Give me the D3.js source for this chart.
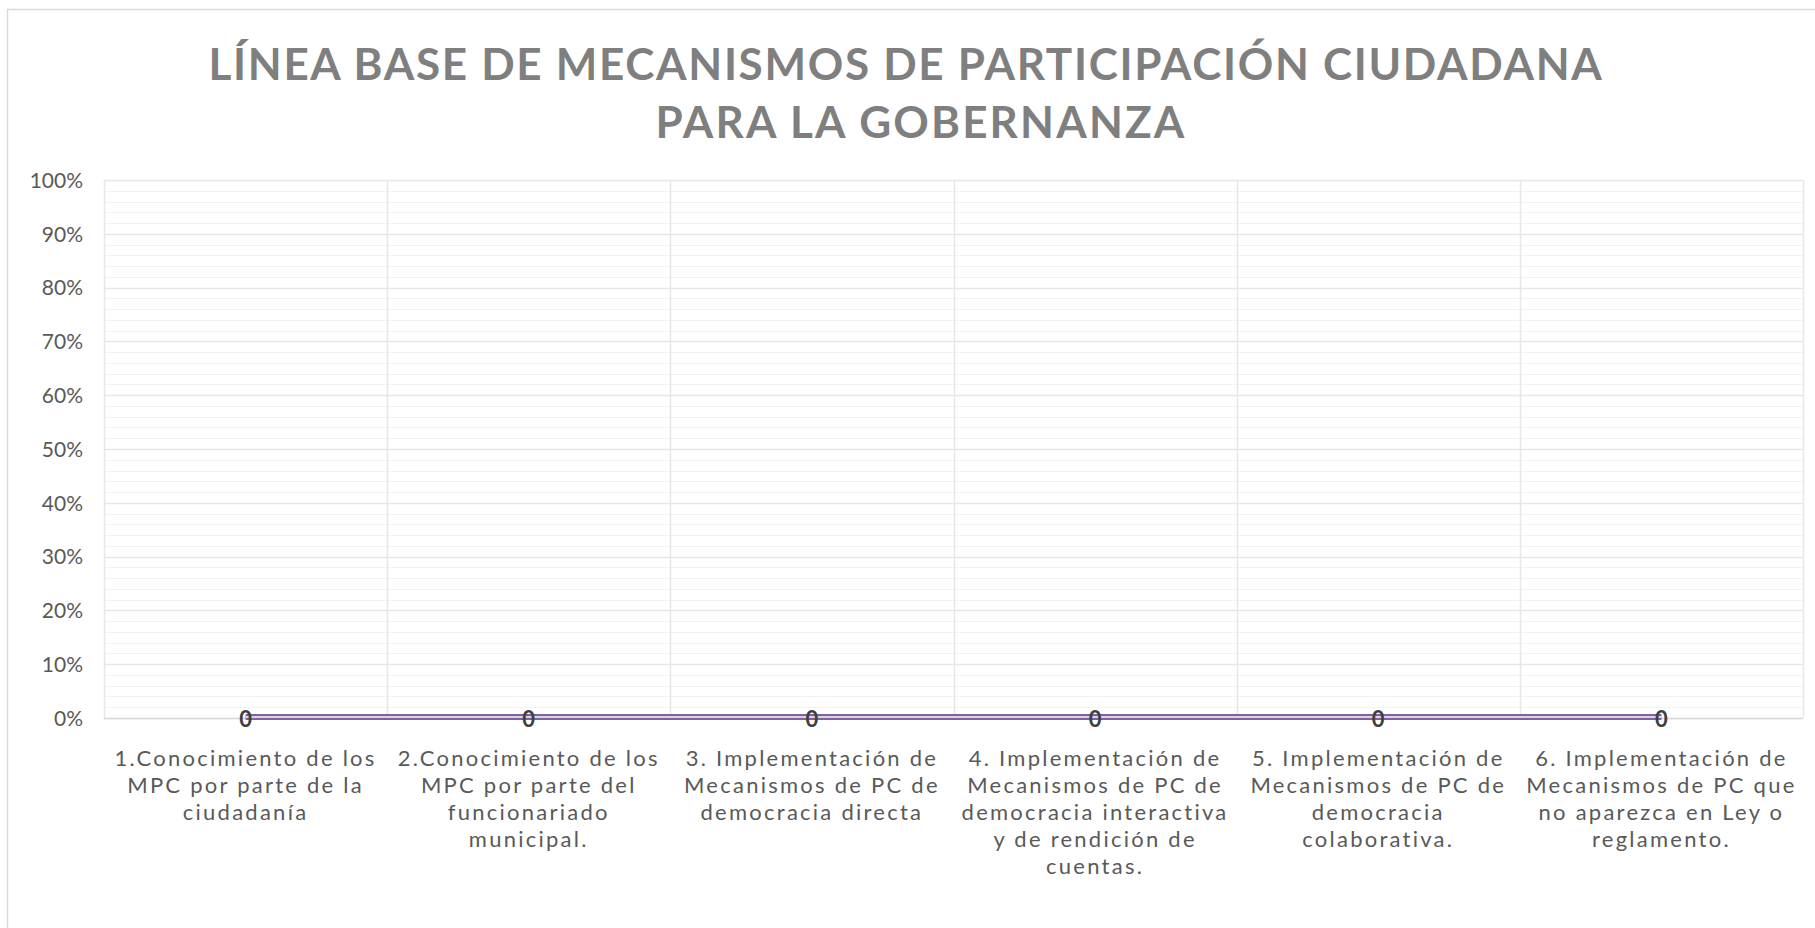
<!DOCTYPE html>
<html>
<head>
<meta charset="utf-8">
<script src="https://cdn.jsdelivr.net/npm/d3@7"></script>
<style>
  html, body { margin: 0; padding: 0; background: #ffffff; }
  svg { display: block; }
</style>
</head>
<body>
<svg id="chart" width="1815" height="928"></svg>
<script>
// ---------- DATA ----------
const titleLines = ["LÍNEA BASE DE MECANISMOS DE PARTICIPACIÓN CIUDADANA", "PARA LA GOBERNANZA"];
const categories = [
  "1.Conocimiento de los\nMPC por parte de la\nciudadanía",
  "2.Conocimiento de los\nMPC por parte del\nfuncionariado\nmunicipal.",
  "3. Implementación de\nMecanismos de PC de\ndemocracia directa",
  "4. Implementación de\nMecanismos de PC de\ndemocracia interactiva\ny de rendición de\ncuentas.",
  "5. Implementación de\nMecanismos de PC de\ndemocracia\ncolaborativa.",
  "6. Implementación de\nMecanismos de PC que\nno aparezca en Ley o\nreglamento."
];
const seriesA = [0, 0, 0, 0, 0, 0];
const seriesB = [0, 0, 0, 0, 0, 0];
const yTicks = [0, 0.1, 0.2, 0.3, 0.4, 0.5, 0.6, 0.7, 0.8, 0.9, 1.0];
const yMinorTicks = d3.range(0, 51).map(i => i / 50);

// ---------- LAYOUT ----------
const svg = d3.select("#chart");
const plot = { left: 104, right: 1803, top: 180, bottom: 718 };
const FONT = "Lato, 'Open Sans', sans-serif";

// outer chart border
svg.append("rect")
  .attr("x", 7.5).attr("y", 9.5)
  .attr("width", 1830).attr("height", 940)
  .attr("fill", "#fff").attr("stroke", "#d9d9d9").attr("stroke-width", 1.5);

const x = d3.scaleBand().domain(d3.range(categories.length)).range([plot.left, plot.right]).paddingInner(0).paddingOuter(0);
const y = d3.scaleLinear().domain([0, 1]).range([plot.bottom, plot.top]);

// minor gridlines
svg.append("g").selectAll("line").data(yMinorTicks).join("line")
  .attr("x1", plot.left).attr("x2", plot.right)
  .attr("y1", d => Math.round(y(d)) + 0.5).attr("y2", d => Math.round(y(d)) + 0.5)
  .attr("stroke", "#f3f3f3").attr("stroke-width", 1);

// major gridlines
svg.append("g").selectAll("line").data(yTicks).join("line")
  .attr("x1", plot.left).attr("x2", plot.right)
  .attr("y1", d => Math.round(y(d)) + 0.5).attr("y2", d => Math.round(y(d)) + 0.5)
  .attr("stroke", "#e7e7e7").attr("stroke-width", 1.5);

// vertical category gridlines
const vLines = d3.range(categories.length + 1).map(i => i < categories.length ? x(i) : plot.right);
svg.append("g").selectAll("line").data(vLines).join("line")
  .attr("x1", d => Math.round(d) + 0.5).attr("x2", d => Math.round(d) + 0.5)
  .attr("y1", plot.top).attr("y2", plot.bottom)
  .attr("stroke", "#e7e7e7").attr("stroke-width", 1.5);

// horizontal axis line
svg.append("line")
  .attr("x1", plot.left).attr("x2", plot.right)
  .attr("y1", plot.bottom + 0.5).attr("y2", plot.bottom + 0.5)
  .attr("stroke", "#d9d9d9").attr("stroke-width", 1.5);

// y axis labels
const yAxis = d3.axisLeft(y).tickValues(yTicks).tickFormat(d3.format(".0%")).tickSize(0).tickPadding(0);
const yG = svg.append("g").attr("transform", `translate(${83},0)`).call(yAxis);
yG.select(".domain").remove();
yG.selectAll("text")
  .attr("font-family", FONT).attr("font-size", 21).attr("fill", "#595959")
  .attr("dy", "0.35em");

// x axis labels
const xG = svg.append("g");
const LINE_H = 27;
const X_FS = 22;
// measure first label line to fit the reference's width
const probe = xG.append("text").attr("font-family", FONT).attr("font-size", X_FS).text(categories[0].split("\n")[0]);
const probeW = probe.node().getComputedTextLength();
probe.remove();
const xLs = Math.max(0, (262 - probeW) / categories[0].split("\n")[0].length);
categories.forEach((c, i) => {
  const lines = c.split("\n");
  const t = xG.append("text")
    .attr("text-anchor", "middle")
    .attr("font-family", FONT).attr("font-size", X_FS).attr("fill", "#595959")
    .attr("letter-spacing", xLs);
  lines.forEach((ln, j) => {
    t.append("tspan").attr("x", x(i) + x.bandwidth() / 2).attr("y", 766 + j * LINE_H).text(ln);
  });
});

// lines
const cx = i => x(i) + x.bandwidth() / 2;
const lineGen = d3.line().x((d, i) => cx(i)).y(d => y(d) - 1);
svg.append("path").datum(seriesA).attr("d", lineGen)
  .attr("fill", "none").attr("stroke", "#7f63a1").attr("stroke-width", 6);
svg.append("path").datum(seriesB).attr("d", lineGen)
  .attr("fill", "none").attr("stroke", "#d9d3e3").attr("stroke-width", 2);

// data labels (series labels coincide; drawn once)
svg.append("g").selectAll("text").data(seriesA).join("text")
  .attr("x", (d, i) => cx(i))
  .attr("y", d => y(d) + 1)
  .attr("dy", "0.35em")
  .attr("text-anchor", "middle")
  .attr("font-family", FONT).attr("font-size", 22).attr("font-weight", 700)
  .attr("fill", "#404040")
  .text(d => d3.format("d")(d));

// title
const tG = svg.append("g");
const targetW1 = 1395, targetW2 = 531;
const t1 = tG.append("text")
  .attr("x", 906).attr("y", 80)
  .attr("text-anchor", "middle")
  .attr("font-family", FONT).attr("font-size", 44).attr("font-weight", 700)
  .attr("fill", "#7f7f7f").text(titleLines[0]);
t1.attr("letter-spacing", (targetW1 - t1.node().getComputedTextLength()) / titleLines[0].length);
const t2 = tG.append("text")
  .attr("x", 921).attr("y", 138)
  .attr("text-anchor", "middle")
  .attr("font-family", FONT).attr("font-size", 44).attr("font-weight", 700)
  .attr("fill", "#7f7f7f").text(titleLines[1]);
t2.attr("letter-spacing", (targetW2 - t2.node().getComputedTextLength()) / titleLines[1].length);
</script>
</body>
</html>
